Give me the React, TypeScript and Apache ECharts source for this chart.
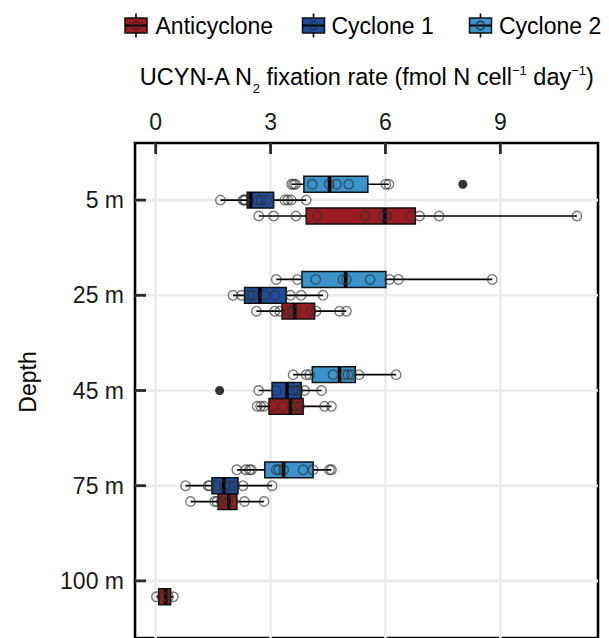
import React, { useEffect, useRef } from 'react';
import * as echarts from 'echarts';

const depths = ['5 m', '25 m', '45 m', '75 m', '100 m'];
const groupNames = ['Anticyclone', 'Cyclone 1', 'Cyclone 2'];
const groupColors = ['#9B1C20', '#1F4D9C', '#3A94CB'];
const xTicks = [0, 3, 6, 9];

// box stats per depth: [lowWhisker, q1, median, q3, highWhisker]
const anticycloneBoxes = [
  [2.69, 3.93, 5.98, 6.78, 11.0],
  [2.63, 3.30, 3.63, 4.15, 4.98],
  [2.65, 2.96, 3.52, 3.85, 4.59],
  [0.91, 1.63, 1.91, 2.12, 2.83],
  [0.02, 0.08, 0.26, 0.39, 0.46],
];
const cyclone1Boxes = [
  [1.69, 2.39, 2.48, 3.08, 3.93],
  [2.02, 2.32, 2.72, 3.41, 4.37],
  [2.69, 3.04, 3.43, 3.80, 4.33],
  [0.78, 1.47, 1.78, 2.15, 3.04],
  null,
];
const cyclone2Boxes = [
  [3.55, 3.87, 4.54, 5.54, 6.09],
  [3.15, 3.82, 4.96, 6.01, 8.79],
  [3.59, 4.09, 4.80, 5.21, 6.28],
  [2.12, 2.85, 3.34, 4.11, 4.59],
  null,
];

// individual measurements per depth
const anticyclonePoints = [
  [2.69, 3.08, 3.66, 4.22, 5.47, 5.95, 6.05, 6.65, 6.89, 7.40, 11.0],
  [2.63, 3.11, 3.24, 3.50, 3.58, 3.67, 4.06, 4.19, 4.80, 4.98],
  [2.65, 2.74, 2.83, 3.06, 3.32, 3.59, 3.67, 3.76, 4.41, 4.59],
  [0.91, 1.54, 1.60, 1.71, 1.89, 2.02, 2.32, 2.83],
  [0.02, 0.17, 0.33, 0.46],
];
const cyclone1Points = [
  [1.69, 2.28, 2.31, 2.34, 2.67, 2.76, 2.89, 3.37, 3.45, 3.54, 3.93],
  [2.02, 2.24, 2.45, 2.54, 2.85, 3.12, 3.52, 3.80, 4.37],
  [2.69, 3.15, 3.59, 3.67, 3.72, 3.89, 4.33],
  [0.78, 1.37, 1.41, 1.58, 1.80, 1.93, 2.06, 2.28, 3.04],
  [],
];
const cyclone2Points = [
  [3.55, 3.60, 3.65, 4.09, 4.53, 4.72, 5.04, 6.01, 6.09],
  [3.15, 3.70, 4.18, 4.89, 4.98, 5.60, 6.11, 6.34, 8.79],
  [3.59, 3.93, 4.02, 4.63, 4.93, 5.02, 5.11, 5.31, 6.28],
  [2.12, 2.35, 2.45, 2.50, 3.15, 3.22, 3.34, 3.85, 4.11, 4.54, 4.59],
  [],
];

// outliers: [groupIndex, depthIndex, value]
const outliers = [
  [2, 0, 8.02],
  [1, 2, 1.67],
];

const FONT = '"Liberation Sans", Arial, Helvetica, sans-serif';
const FS = 23;
const X_MIN = -0.54;
const X_MAX = 11.55;
const Y_MIN = -0.6;
const Y_MAX = 4.6;

export default function App() {
  const ref = useRef<HTMLDivElement>(null);

  useEffect(() => {
    const chart = echarts.init(ref.current!, null, { renderer: 'svg' });
    const boxesByGroup = [anticycloneBoxes, cyclone1Boxes, cyclone2Boxes];
    const pointsByGroup = [anticyclonePoints, cyclone1Points, cyclone2Points];
    const offsets = [1 / 6, 0, -1 / 6];

    const boxSeries = boxesByGroup.map((boxes, g) => ({
      type: 'custom',
      name: groupNames[g],
      z: 3,
      data: boxes
        .map((b, d) => (b ? [d, ...b] : null))
        .filter((x) => x !== null),
      encode: { x: [1, 2, 3, 4, 5], y: 0 },
      renderItem: (params: any, api: any) => {
        const d = api.value(0);
        const y = d + offsets[g];
        const pLow = api.coord([api.value(1), y]);
        const pQ1 = api.coord([api.value(2), y]);
        const pMed = api.coord([api.value(3), y]);
        const pQ3 = api.coord([api.value(4), y]);
        const pHigh = api.coord([api.value(5), y]);
        const half = api.size([0, 1])[1] / 12;
        const py = pQ1[1];
        return {
          type: 'group',
          children: [
            {
              type: 'line',
              shape: { x1: pLow[0], y1: py, x2: pHigh[0], y2: py },
              style: { stroke: '#000', lineWidth: 1.7 },
            },
            {
              type: 'rect',
              shape: { x: pQ1[0], y: py - half, width: pQ3[0] - pQ1[0], height: 2 * half },
              style: { fill: groupColors[g], stroke: '#111', lineWidth: 1.5 },
            },
            {
              type: 'line',
              shape: { x1: pMed[0], y1: py - half, x2: pMed[0], y2: py + half },
              style: { stroke: '#000', lineWidth: 3.6 },
            },
          ],
        };
      },
    }));

    const pointSeries = pointsByGroup.map((pts, g) => ({
      type: 'scatter',
      name: groupNames[g] + ' points',
      z: 5,
      symbol: 'circle',
      symbolSize: 9.5,
      itemStyle: { color: 'rgba(0,0,0,0)', borderColor: 'rgba(45,45,45,0.8)', borderWidth: 1.4 },
      data: pts.flatMap((arr, d) => arr.map((v) => [v, d + offsets[g]])),
    }));

    const outlierSeries = {
      type: 'scatter',
      name: 'outliers',
      z: 6,
      symbol: 'circle',
      symbolSize: 9,
      itemStyle: { color: '#000' },
      data: outliers.map(([g, d, v]) => [v, d + offsets[g]]),
    };

    const legendIconX = [125, 302.5, 469.5];
    const legendTextX = [155.5, 331.5, 499];
    const legendY = 25.5;
    const staticGraphics: any[] = [];
    groupNames.forEach((name, g) => {
      const x0 = legendIconX[g];
      const w = 22;
      const h = 15;
      staticGraphics.push(
        {
          type: 'line',
          shape: { x1: x0 + w / 2, y1: legendY - 12, x2: x0 + w / 2, y2: legendY + 12 },
          style: { stroke: '#000', lineWidth: 1.6 },
        },
        {
          type: 'rect',
          shape: { x: x0, y: legendY - h / 2, width: w, height: h },
          style: { fill: groupColors[g], stroke: '#111', lineWidth: 1.5 },
        },
        {
          type: 'line',
          shape: { x1: x0, y1: legendY, x2: x0 + w, y2: legendY },
          style: { stroke: '#000', lineWidth: 2 },
        },
        {
          type: 'circle',
          shape: { cx: x0 + w / 2, cy: legendY, r: 4.2 },
          style: { fill: 'none', stroke: 'rgba(45,45,45,0.85)', lineWidth: 1.3 },
        },
        {
          type: 'text',
          x: legendTextX[g],
          y: legendY,
          style: {
            text: name,
            fontSize: FS,
            fontFamily: FONT,
            fill: '#000',
            align: 'left',
            verticalAlign: 'middle',
          },
        }
      );
    });
    staticGraphics.push({
      type: 'text',
      x: 28,
      y: 382,
      rotation: Math.PI / 2,
      style: {
        text: 'Depth',
        fontSize: FS,
        fontFamily: FONT,
        fill: '#000',
        align: 'center',
        verticalAlign: 'middle',
      },
    });

    const option: any = {
      animation: false,
      backgroundColor: '#fff',
      grid: {
        left: 135,
        top: 143,
        width: 463,
        height: 497,
        show: true,
        borderColor: '#000',
        borderWidth: 2.6,
        backgroundColor: 'rgba(0,0,0,0)',
      },
      xAxis: {
        type: 'value',
        position: 'top',
        min: X_MIN,
        max: X_MAX,
        axisLine: { show: false, onZero: false },
        axisTick: { show: false, customValues: xTicks },
        axisLabel: {
          customValues: xTicks,
          fontSize: FS,
          fontFamily: FONT,
          color: '#1a1a1a',
          margin: 10,
        },
        splitLine: { show: false },
        name:
          '{a|UCYN-A N}{sub|2}{a| fixation rate (fmol N cell}{sup|\u22121}{a| day}{sup|\u22121}{a|)}',
        nameLocation: 'middle',
        nameGap: 48,
        nameTextStyle: {
          rich: {
            a: { fontSize: 23.5, fontFamily: FONT, color: '#000', lineHeight: 36 },
            sub: { fontSize: 13, fontFamily: FONT, color: '#000', verticalAlign: 'bottom' },
            sup: { fontSize: 13, fontFamily: FONT, color: '#000', verticalAlign: 'top', padding: [5, 0, 0, 0] },
          },
        },
      },
      yAxis: {
        type: 'value',
        inverse: true,
        min: Y_MIN,
        max: Y_MAX,
        axisLine: { show: false, onZero: false },
        axisTick: { show: false, customValues: depths.map((_, i) => i) },
        axisLabel: {
          customValues: depths.map((_, i) => i),
          formatter: (v: number) => depths[Math.round(v)] ?? '',
          fontSize: FS,
          fontFamily: FONT,
          color: '#1a1a1a',
          margin: 11,
        },
        splitLine: { show: false },
      },
      graphic: staticGraphics,
      series: [...boxSeries, ...pointSeries, outlierSeries],
    };

    chart.setOption(option);

    // grid lines and inward ticks, placed through the chart's own scales
    const gridGraphics: any[] = [];
    const tickGraphics: any[] = [];
    xTicks.forEach((v) => {
      const top = chart.convertToPixel({ gridIndex: 0 }, [v, Y_MIN]) as number[];
      const bot = chart.convertToPixel({ gridIndex: 0 }, [v, Y_MAX]) as number[];
      gridGraphics.push({
        type: 'line',
        shape: { x1: top[0], y1: top[1], x2: bot[0], y2: bot[1] },
        style: { stroke: '#EBEBEB', lineWidth: 2.6 },
      });
      tickGraphics.push({
        type: 'rect',
        shape: { x: top[0] - 1.4, y: top[1], width: 2.8, height: 11 },
        style: { fill: '#2a2a2a' },
      });
    });
    depths.forEach((_, i) => {
      const left = chart.convertToPixel({ gridIndex: 0 }, [X_MIN, i]) as number[];
      const right = chart.convertToPixel({ gridIndex: 0 }, [X_MAX, i]) as number[];
      gridGraphics.push({
        type: 'line',
        shape: { x1: left[0], y1: left[1], x2: right[0], y2: right[1] },
        style: { stroke: '#EBEBEB', lineWidth: 2.6 },
      });
      tickGraphics.push({
        type: 'rect',
        shape: { x: left[0], y: left[1] - 1.4, width: 11, height: 2.8 },
        style: { fill: '#2a2a2a' },
      });
    });
    chart.setOption({ graphic: [...staticGraphics, ...gridGraphics, ...tickGraphics] });

    return () => chart.dispose();
  }, []);

  return (
    <div
      ref={ref}
      style={{ position: 'fixed', left: 0, top: 0, width: 609, height: 638 }}
    />
  );
}
